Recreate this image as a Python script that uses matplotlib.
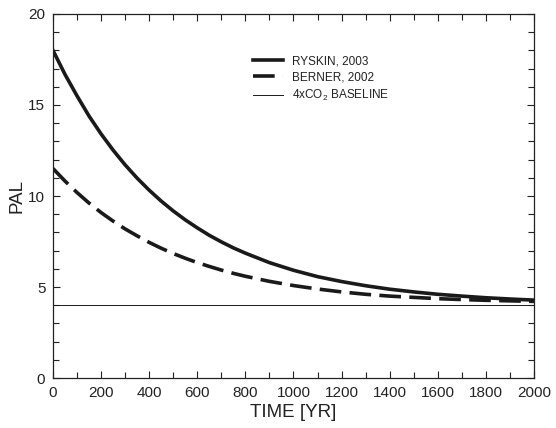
import matplotlib
matplotlib.use("Agg")
import matplotlib.pyplot as plt
from matplotlib.ticker import MultipleLocator

plt.rcParams['font.family'] = ['Liberation Sans', 'DejaVu Sans']
plt.rcParams['mathtext.fontset'] = 'custom'
plt.rcParams['mathtext.rm'] = 'Liberation Sans'

time_yr = [0, 50, 100, 150, 200, 250, 300, 350, 400, 450, 500, 550, 600,
           650, 700, 750, 800, 900, 1000, 1100, 1200, 1300, 1400, 1500,
           1600, 1700, 1800, 1900, 2000]
ryskin_2003 = [18.0, 16.68, 15.5, 14.39, 13.41, 12.52, 11.71, 10.98, 10.32,
               9.72, 9.18, 8.69, 8.25, 7.84, 7.48, 7.15, 6.86, 6.34, 5.92,
               5.57, 5.3, 5.07, 4.88, 4.73, 4.6, 4.5, 4.41, 4.34, 4.28]
berner_2002 = [11.51, 10.82, 10.19, 9.61, 9.09, 8.62, 8.19, 7.81, 7.45,
               7.13, 6.84, 6.58, 6.34, 6.13, 5.93, 5.75, 5.59, 5.31, 5.08,
               4.89, 4.73, 4.6, 4.5, 4.43, 4.36, 4.31, 4.27, 4.24, 4.21]
baseline_time = [0, 2000]
baseline_pal = [4.0, 4.0]

c = '#1a1a1a'
tc = '#222222'
fig = plt.figure(figsize=(5.56, 4.28), dpi=100)
ax = fig.add_axes([0.0953, 0.1168, 0.8651, 0.8505])

ax.plot(time_yr, ryskin_2003, color=c, lw=2.6, label='RYSKIN, 2003')
ax.plot(time_yr, berner_2002, color=c, lw=2.6, dashes=(6.0, 2.3), label='BERNER, 2002')
ax.plot(baseline_time, baseline_pal, color=c, lw=0.7, label='4xCO$_2$ BASELINE')

ax.set_xlim(0, 2000)
ax.set_ylim(0, 20)
ax.xaxis.set_major_locator(MultipleLocator(200))
ax.xaxis.set_minor_locator(MultipleLocator(100))
ax.yaxis.set_major_locator(MultipleLocator(5))
ax.yaxis.set_minor_locator(MultipleLocator(1))
ax.tick_params(which='both', direction='in', top=True, right=True,
               labelsize=11, colors=tc, width=0.8, pad=5.5)
ax.tick_params(which='major', length=5)
ax.tick_params(which='minor', length=4)
for s in ax.spines.values():
    s.set_linewidth(0.9)
    s.set_color(tc)

ax.set_xlabel('TIME [YR]', fontsize=13.5, color=tc, labelpad=3)
ax.set_ylabel('PAL', fontsize=13.5, color=tc, labelpad=2)

leg = ax.legend(loc='upper left', bbox_to_anchor=(0.405, 0.9), frameon=False,
                fontsize=8.5, handlelength=2.6, handletextpad=0.76,
                labelspacing=0.38, borderaxespad=0)
for t in leg.get_texts():
    t.set_color(tc)

fig.savefig('out.png', dpi=100)
